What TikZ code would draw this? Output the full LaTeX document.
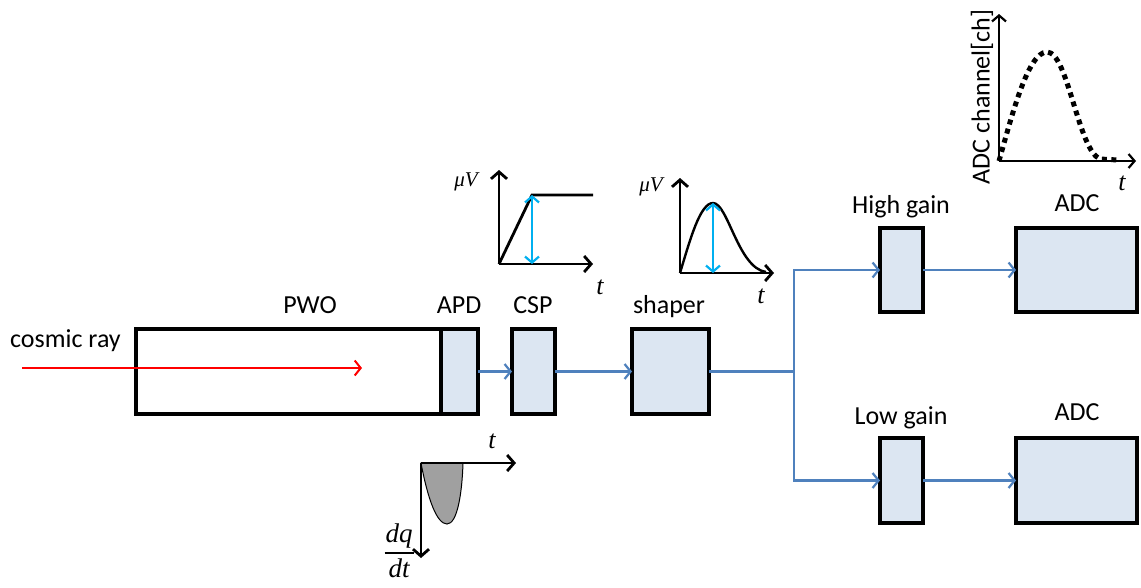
\documentclass[tikz,border=0pt]{standalone}
\usepackage{fontspec}
\setmainfont{Carlito}
\newfontfamily\serifit{Liberation Serif}
\usetikzlibrary{arrows.meta}
\definecolor{boxfill}{HTML}{DCE6F2}
\definecolor{linkblue}{HTML}{4F81BD}
\definecolor{sigblue}{HTML}{00B0F0}
\definecolor{pulsegray}{HTML}{A0A0A0}
\begin{document}
\begin{tikzpicture}[x=1pt,y=-1pt,
  blk/.style={draw=black, line width=3.2pt, fill=boxfill, inner sep=0pt, outer sep=0pt},
  lbl/.style={font=\fontsize{26}{30}\selectfont, anchor=base, inner sep=0pt},
  mlbl/.style={font=\serifit\itshape\fontsize{26}{30}\selectfont, inner sep=0pt},
  vlbl/.style={font=\serifit\itshape\fontsize{21}{25}\selectfont, inner sep=0pt},
  link/.style={draw=linkblue, line width=2.2pt, -{Straight Barb[length=6pt,width=15pt]}},
  axis/.style={draw=black, line width=2.8pt, -{Straight Barb[length=7pt,width=16pt]}},
  amp/.style={draw=sigblue, line width=2.2pt, {Straight Barb[length=6pt,width=14pt]}-{Straight Barb[length=6pt,width=14pt]}}
]
\useasboundingbox (0,0) rectangle (1141,587);
\fill[white] (0,0) rectangle (1141,587);

% blocks
\node[blk, fill=white, minimum width=305pt, minimum height=85pt] (pwo) at (288.5,371.5) {};
\node[blk, minimum width=37pt, minimum height=85pt] (apd) at (459.5,371.5) {};
\node[blk, minimum width=43pt, minimum height=85pt] (csp) at (533.5,371.5) {};
\node[blk, minimum width=77pt, minimum height=85pt] (shaper) at (670.5,371.5) {};
\node[blk, minimum width=43pt, minimum height=84pt] (hg) at (901.5,270) {};
\node[blk, minimum width=43pt, minimum height=85pt] (lg) at (901.5,480.5) {};
\node[blk, minimum width=121pt, minimum height=84pt] (adc1) at (1076.5,270) {};
\node[blk, minimum width=121pt, minimum height=85pt] (adc2) at (1076.5,480.5) {};

% labels
\node[lbl] (tpwo) at (310,313) {PWO};
\node[lbl] (tapd) at (459,313) {APD};
\node[lbl] (tcsp) at (533,313) {CSP};
\node[lbl] (tsh) at (669,313) {shaper};
\node[lbl] (thg) at (901,213) {High gain};
\node[lbl] (tadc1) at (1077,211) {ADC};
\node[lbl] (tlg) at (901,424) {Low gain};
\node[lbl] (tadc2) at (1077,420) {ADC};
\node[lbl, anchor=base west] (tcr) at (10,347) {cosmic ray};

% cosmic ray
\coordinate (crs) at (22,368);
\coordinate (cre) at (362,368);
\draw[draw=red, line width=2pt, -{Straight Barb[length=6pt,width=15pt]}] (crs) -- (cre);

% signal chain
\coordinate (split) at (794,371.5);
\draw[link] (apd.east) -- (csp.west);
\draw[link] (csp.east) -- (shaper.west);
\draw[draw=linkblue, line width=2.2pt] (shaper.east) -- (split);
\draw[link] (split) |- (hg.west);
\draw[link] (split) |- (lg.west);
\draw[link] (hg.east) -- (adc1.west);
\draw[link] (lg.east) -- (adc2.west);

% graph 1 : CSP output
\coordinate (g1o) at (499,264);
\coordinate (g1y) at (499,170);
\coordinate (g1x) at (593,264);
\coordinate (g1k) at (532,195);
\coordinate (g1b) at (532,264);
\coordinate (g1e) at (593,195);
\draw[axis] (g1o) -- (g1y);
\draw[axis] (g1o) -- (g1x);
\draw[line width=2.8pt] (g1o) -- (g1k) -- (g1e);
\draw[amp] (g1k) -- (g1b);
\node[vlbl] (g1v) at (466,182) {μV};
\node[mlbl] (g1t) at (600,287) {t};

% graph 2 : shaper output
\coordinate (g2o) at (680,273);
\coordinate (g2y) at (680,178);
\coordinate (g2x) at (774,273);
\coordinate (g2p) at (713,203);
\coordinate (g2b) at (713,273);
\draw[axis] (g2o) -- (g2y);
\draw[axis] (g2o) -- (g2x);
\draw[line width=2.4pt] (g2o) .. controls (690,240) and (700,203) .. (g2p)
  .. controls (728,203) and (738,268) .. (766,272);
\draw[amp] (g2p) -- (g2b);
\node[vlbl] (g2v) at (651,187) {μV};
\node[mlbl] (g2t) at (761,296) {t};

% graph 3 : ADC output
\coordinate (g3o) at (999,161);
\coordinate (g3y) at (999,14);
\coordinate (g3x) at (1136,161);
\coordinate (g3p) at (1047,52);
\draw[draw=black, line width=2.2pt, -{Straight Barb[length=6pt,width=14pt]}] (g3o) -- (g3y);
\draw[draw=black, line width=2.2pt, -{Straight Barb[length=6pt,width=14pt]}] (g3o) -- (g3x);
\draw[line width=5pt, dash pattern=on 5pt off 4.5pt] (g3o) .. controls (1012,115) and (1028,52) .. (g3p)
  .. controls (1068,52) and (1078,150) .. (1100,159) -- (1118,160);
\node[font=\fontsize{26}{30}\selectfont, rotate=90, inner sep=0pt] (g3lab) at (982,97) {ADC channel[ch]};
\node[mlbl] (g3t) at (1122,183) {t};

% graph 4 : APD current
\coordinate (g4o) at (421,463);
\coordinate (g4x) at (516,463);
\coordinate (g4y) at (421,558);
\filldraw[fill=pulsegray, draw=black, line width=1pt] (g4o) .. controls (428,500) and (437,524) .. (447,524)
  .. controls (457,524) and (462,495) .. (463,463) -- cycle;
\draw[axis] (g4o) -- (g4x);
\draw[axis] (g4o) -- (g4y);
\node[mlbl] (g4t) at (492,441) {t};
\node[font=\serifit\itshape\fontsize{27}{30}\selectfont, inner sep=0pt] (g4q) at (399,553)
  {\setlength{\arrayrulewidth}{1.3pt}\setlength{\tabcolsep}{1pt}\renewcommand{\arraystretch}{1.15}\begin{tabular}{c}dq\\\hline dt\end{tabular}};
\end{tikzpicture}
\end{document}
